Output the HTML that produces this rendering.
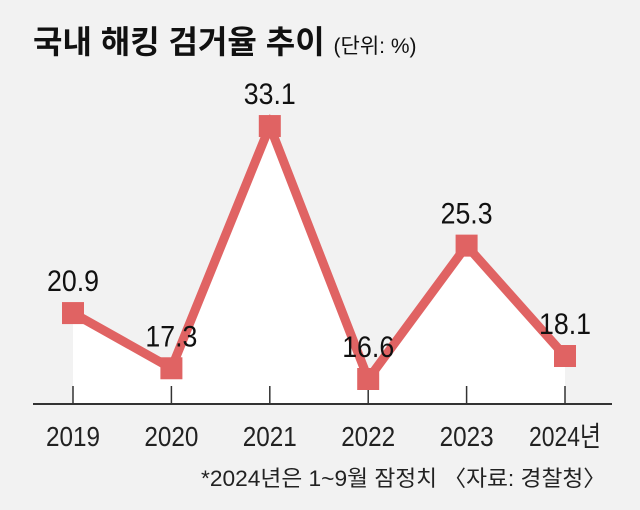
<!DOCTYPE html>
<html><head><meta charset="utf-8"><style>
html,body{margin:0;padding:0;background:#f2f2f2;}
svg{display:block;}
text{font-family:"Liberation Sans","Noto Sans CJK KR",sans-serif;}
</style></head><body>
<svg width="640" height="510" viewBox="0 0 640 510">
<rect width="640" height="510" fill="#f2f2f2"/>
<text x="33" y="53" font-size="32" font-weight="bold" fill="#111">국내 해킹 검거율 추이 <tspan font-size="21" font-weight="normal">(단위: %)</tspan></text>
<g id="plot"></g>
<text x="606" y="486" font-size="22" fill="#222" text-anchor="end" textLength="405" lengthAdjust="spacingAndGlyphs">*2024년은 1~9월 잠정치 〈자료: 경찰청〉</text>
<script>
const categories=["2019","2020","2021","2022","2023","2024년"];
const values=[20.9,17.3,33.1,16.6,25.3,18.1];
const labels=["20.9","17.3","33.1","16.6","25.3","18.1"];
const ns="http://www.w3.org/2000/svg";
const g=document.getElementById("plot");
const x0=73,dx=98.4,base=404;
function xs(i){return x0+i*dx;}
function ys(v){return 379-(v-16.6)*15.33;}
function mk(t,a){const e=document.createElementNS(ns,t);for(const k in a)e.setAttribute(k,a[k]);g.appendChild(e);return e;}
let pts=values.map((v,i)=>xs(i)+","+ys(v)).join(" ");
const area=mk("polygon",{points:xs(0)+","+base+" "+pts+" "+xs(values.length-1)+","+base,fill:"#ffffff"});


const axis=mk("line",{x1:33,x2:612,y1:base,y2:base,stroke:"#333","stroke-width":2});


categories.forEach((c,i)=>{
 const t=mk("line",{x1:xs(i),x2:xs(i),y1:386,y2:base,stroke:"#333","stroke-width":1.5});
 
 
 const l=mk("text",{x:xs(i),y:446,"font-size":28,"text-anchor":"middle",fill:"#222",textLength:c.length>4?72:54,lengthAdjust:"spacingAndGlyphs"});
 l.textContent=c;
 
 
});
const line=mk("polyline",{points:pts,fill:"none",stroke:"#e06363","stroke-width":9,"stroke-linejoin":"miter"});


values.forEach((v,i)=>{
 const r=mk("rect",{x:xs(i)-11,y:ys(v)-11,width:22,height:22,fill:"#e06363"});
 
 
 const t=mk("text",{x:xs(i),y:ys(v)-22,"font-size":30,"text-anchor":"middle",fill:"#111",textLength:52,lengthAdjust:"spacingAndGlyphs"});
 t.textContent=labels[i];
 
 
});
</script>
</svg>
</body></html>
